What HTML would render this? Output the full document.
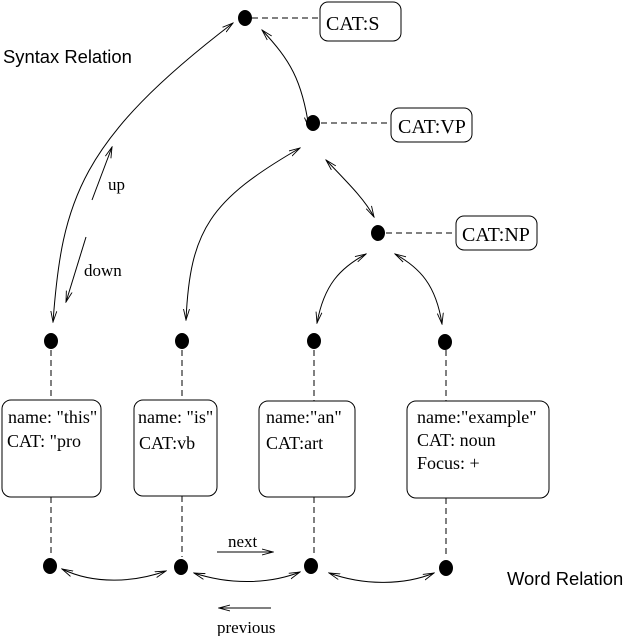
<!DOCTYPE html>
<html><head><meta charset="utf-8"><style>
html,body{margin:0;padding:0;background:#fff;}
svg{display:block;}
.t{font-family:"Liberation Serif",serif;font-size:18px;fill:#000;}
.s{font-family:"Liberation Sans",sans-serif;font-size:18.4px;fill:#000;}
</style></head><body>
<svg width="624" height="636" viewBox="0 0 624 636" xmlns="http://www.w3.org/2000/svg">
<defs>
<marker id="a" markerWidth="12" markerHeight="8" refX="11" refY="4" orient="auto-start-reverse" markerUnits="userSpaceOnUse">
<path d="M0,1 L11,4 L0,7" fill="none" stroke="#000" stroke-width="0.9"/>
</marker>
</defs>
<g fill="none" stroke="#000" stroke-width="1">
<g stroke-dasharray="6,4">
<line x1="252" y1="18" x2="318" y2="18"/>
<line x1="321" y1="123" x2="388" y2="123"/>
<line x1="386" y1="233" x2="453" y2="233"/>
<line x1="51" y1="350" x2="51" y2="400"/>
<line x1="51" y1="497" x2="51" y2="557"/>
<line x1="182" y1="350" x2="182" y2="400"/>
<line x1="182" y1="496" x2="182" y2="557"/>
<line x1="314" y1="350" x2="314" y2="401"/>
<line x1="314" y1="497" x2="314" y2="557"/>
<line x1="446" y1="350" x2="446" y2="401"/>
<line x1="446" y1="498" x2="446" y2="557"/>
</g>
<rect x="320" y="2" width="81" height="39" rx="8"/>
<rect x="391" y="108" width="81" height="34" rx="8"/>
<rect x="456" y="216" width="81" height="34" rx="8"/>
<rect x="2" y="400" width="99" height="97" rx="9"/>
<rect x="134" y="400" width="83" height="96" rx="9"/>
<rect x="259" y="401" width="96" height="96" rx="9"/>
<rect x="407" y="401" width="142" height="97" rx="9"/>
<path d="M53,322 C62,200 80,140 233,23" marker-start="url(#a)" marker-end="url(#a)"/>
<path d="M262,30 C290,60 302,80 309,128" marker-start="url(#a)" marker-end="url(#a)"/>
<path d="M186,320 C190,230 210,200 300,148" marker-start="url(#a)" marker-end="url(#a)"/>
<path d="M326,160 C350,185 365,200 374,217" marker-start="url(#a)" marker-end="url(#a)"/>
<path d="M317,323 C324,285 340,268 366,254" marker-start="url(#a)" marker-end="url(#a)"/>
<path d="M442,324 C436,285 420,268 395,254" marker-start="url(#a)" marker-end="url(#a)"/>
<line x1="92" y1="200" x2="112" y2="147" marker-end="url(#a)"/>
<line x1="86" y1="237" x2="66" y2="302" marker-end="url(#a)"/>
<path d="M62,569 C95,585 135,582 166,571" marker-start="url(#a)" marker-end="url(#a)"/>
<path d="M194,573 C230,585 270,584 300,572" marker-start="url(#a)" marker-end="url(#a)"/>
<path d="M329,573 C365,586 405,585 434,573" marker-start="url(#a)" marker-end="url(#a)"/>
<line x1="217" y1="552" x2="273" y2="552" marker-end="url(#a)"/>
<line x1="271" y1="608" x2="219" y2="608" marker-end="url(#a)"/>
</g>
<g fill="#000">
<ellipse cx="245" cy="18" rx="7" ry="8"/>
<ellipse cx="313" cy="123" rx="7" ry="8"/>
<ellipse cx="378" cy="233" rx="7" ry="8"/>
<ellipse cx="51" cy="341" rx="7" ry="8"/>
<ellipse cx="182" cy="341" rx="7" ry="8"/>
<ellipse cx="314" cy="341" rx="7" ry="8"/>
<ellipse cx="445" cy="342" rx="7" ry="8"/>
<ellipse cx="50" cy="566" rx="7" ry="8"/>
<ellipse cx="181" cy="567" rx="7" ry="8"/>
<ellipse cx="311" cy="566" rx="7" ry="8"/>
<ellipse cx="446" cy="568" rx="7" ry="8"/>
</g>
<text class="s" x="3" y="63">Syntax Relation</text>
<text class="s" x="507" y="585">Word Relation</text>
<text class="t" x="326" y="30" style="font-size:20px">CAT:S</text>
<text class="t" x="398" y="133" style="font-size:20px">CAT:VP</text>
<text class="t" x="462" y="241" style="font-size:20px">CAT:NP</text>
<text class="t" x="108" y="190" style="font-size:17px">up</text>
<text class="t" x="84" y="276" style="font-size:17px">down</text>
<text class="t" x="228" y="547" style="font-size:17px">next</text>
<text class="t" x="217" y="633" style="font-size:17px">previous</text>
<text class="t" x="8" y="423">name: "this"</text>
<text class="t" x="7" y="447">CAT: "pro</text>
<text class="t" x="138" y="423">name: "is"</text>
<text class="t" x="139" y="449">CAT:vb</text>
<text class="t" x="266" y="423">name:"an"</text>
<text class="t" x="266" y="449">CAT:art</text>
<text class="t" x="417" y="423">name:"example"</text>
<text class="t" x="417" y="446">CAT: noun</text>
<text class="t" x="417" y="469">Focus: +</text>
</svg>
</body></html>
